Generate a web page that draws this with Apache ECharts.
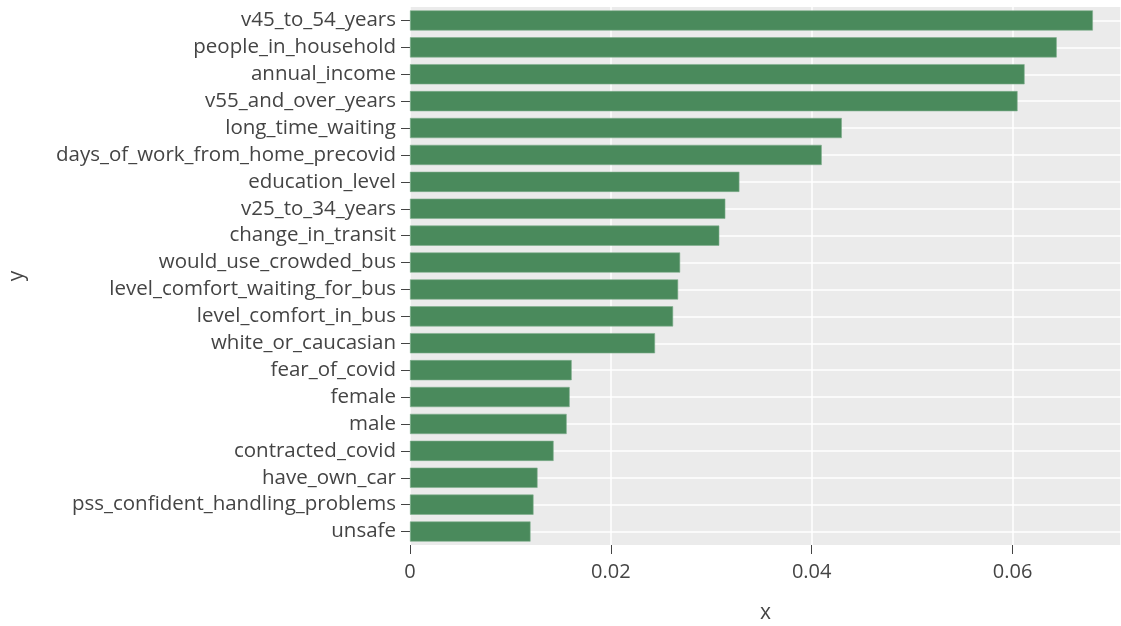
<!DOCTYPE html>
<html><head><meta charset="utf-8">
<script src="https://cdn.jsdelivr.net/npm/echarts@6/dist/echarts.min.js"></script>
<style>html,body{margin:0;padding:0;background:#fff}#c{width:1121px;height:626px}</style>
</head><body><div id="c"></div>
<script>
const categories = ["v45_to_54_years","people_in_household","annual_income","v55_and_over_years","long_time_waiting","days_of_work_from_home_precovid","education_level","v25_to_34_years","change_in_transit","would_use_crowded_bus","level_comfort_waiting_for_bus","level_comfort_in_bus","white_or_caucasian","fear_of_covid","female","male","contracted_covid","have_own_car","pss_confident_handling_problems","unsafe"];
const values = [0.0680,0.0644,0.0612,0.0605,0.0430,0.0410,0.0328,0.0314,0.0308,0.0269,0.0267,0.0262,0.0244,0.0161,0.0159,0.0156,0.0143,0.0127,0.0123,0.0120];
const xTicks = [0, 0.02, 0.04, 0.06];

const font = "'Open Sans', sans-serif";
const chart = echarts.init(document.getElementById('c'));
chart.setOption({
  animation: false,
  backgroundColor: '#ffffff',
  grid: {left: 410, right: 0, top: 7, bottom: 81, containLabel: false, outerBoundsMode: 'none',
         show: true, backgroundColor: '#ebebeb', borderWidth: 0},
  xAxis: {
    type: 'value', min: 0, max: 0.0708, interval: 0.02,
    name: 'x', nameLocation: 'middle', nameGap: 58,
    nameTextStyle: {fontFamily: font, fontSize: 21, color: '#444'},
    axisLine: {show: false},
    axisTick: {show: true, length: 9, lineStyle: {color: '#444', width: 1}},
    axisLabel: {fontFamily: font, fontSize: 20, color: '#444', margin: 17,
      showMaxLabel: false,
      formatter: v => xTicks.includes(Math.round(v*100)/100) ? String(Math.round(v*100)/100) : ''},
    splitLine: {show: true, lineStyle: {color: '#ffffff', width: 1.5}}
  },
  yAxis: {
    type: 'category', data: categories, inverse: true,
    name: 'y', nameLocation: 'middle', nameGap: 382, nameRotate: 90,
    nameTextStyle: {fontFamily: font, fontSize: 21, color: '#444'},
    axisLine: {show: false},
    axisTick: {show: true, alignWithLabel: true, interval: 0, length: 9, lineStyle: {color: '#444', width: 1}},
    axisLabel: {fontFamily: font, fontSize: 20.5, color: '#444', margin: 14, interval: 0},
    splitLine: {show: true, alignWithLabel: true, interval: 0, lineStyle: {color: '#ffffff', width: 1.5}}
  },
  series: [{
    type: 'bar', data: values, barCategoryGap: '25%',
    itemStyle: {color: '#4a8a5c', borderColor: '#7fae8d', borderWidth: 0.6}
  }]
});
</script></body></html>
